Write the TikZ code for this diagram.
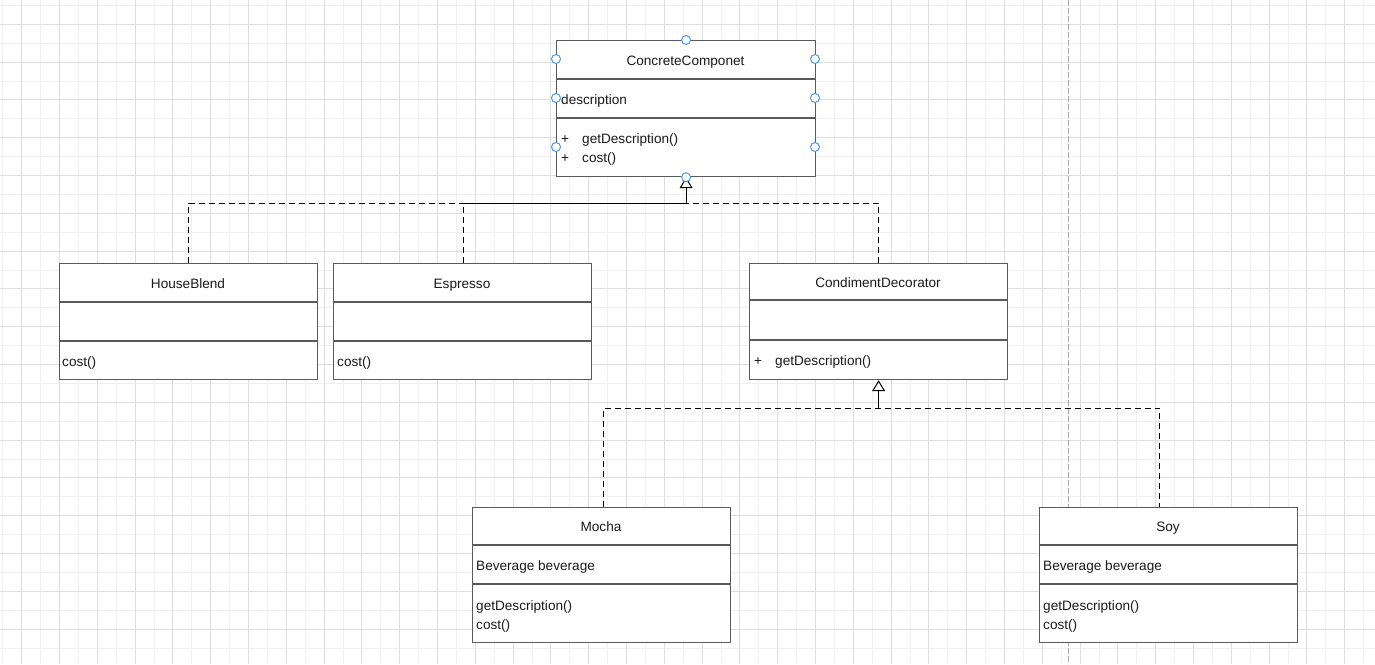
\documentclass[tikz,border=0pt]{standalone}
\usepackage{fontspec}
\setmainfont{Liberation Sans}
\usetikzlibrary{arrows.meta,calc}
\definecolor{gridlight}{HTML}{F0F0F0}
\definecolor{griddark}{HTML}{DEDEDE}
\definecolor{boxline}{HTML}{5A5A5A}
\definecolor{handle}{HTML}{4A98EC}
\definecolor{pagebreak}{HTML}{AAAAAA}
\definecolor{txt}{HTML}{1A1A1A}
\begin{document}
\begin{tikzpicture}[x=1pt,y=-1pt,
  umlbox/.style={draw=boxline, line width=1.2pt, fill=white, inner sep=0pt, anchor=north west, minimum width=258pt, minimum height=116pt},
  divider/.style={draw=boxline, line width=1.2pt},
  lbl/.style={text=txt, font=\fontsize{13.6}{15}\selectfont, inner sep=0pt},
  ttl/.style={lbl, anchor=base},
  itm/.style={lbl, anchor=base west},
  dep/.style={draw=black, line width=1pt, dash pattern=on 6pt off 4pt},
  gen/.style={draw=black, line width=1pt, -{Triangle[open,length=11pt,width=13pt]}},
  hnd/.style={circle, draw=handle, fill=white, line width=1pt, minimum size=9pt, inner sep=0pt}
]
% background and grid
\fill[white] (0,0) rectangle (1375,664);
\useasboundingbox (0,0) rectangle (1375,664);
\foreach \i in {0,...,36} {
  \draw[gridlight, line width=1pt] ({2.8+37.8*\i},0) -- ({2.8+37.8*\i},664);
}
\foreach \i in {0,...,17} {
  \draw[gridlight, line width=1pt] (0,{5.4+37.8*\i}) -- (1375,{5.4+37.8*\i});
}
\foreach \i in {0,...,35} {
  \draw[griddark, line width=1pt] ({21.7+37.8*\i},0) -- ({21.7+37.8*\i},664);
}
\foreach \i in {0,...,16} {
  \draw[griddark, line width=1pt] (0,{24.3+37.8*\i}) -- (1375,{24.3+37.8*\i});
}
% page break line
\draw[pagebreak, line width=1pt, dash pattern=on 6pt off 2pt] (1068.3,0) -- (1068.3,664);

% classes
\node[umlbox, minimum width=259pt, minimum height=136pt] (cc) at (556,40) {};
\node[umlbox] (hb) at (59,263) {};
\node[umlbox] (es) at (333,263) {};
\node[umlbox] (cd) at (749,263) {};
\node[umlbox, minimum height=135pt] (mo) at (472,507) {};
\node[umlbox, minimum height=135pt] (so) at (1039,507) {};

% connectors
\coordinate (ya) at (0,203);
\coordinate (yb) at (0,408);
\coordinate (ja) at (cc.south |- ya);
\coordinate (jb) at (cd.south |- yb);
\coordinate (estop) at ([xshift=1pt]es.north);
\coordinate (sotop) at ([xshift=-9pt]so.north);
\coordinate (motop) at ([xshift=2pt]mo.north);
\draw[dep] (hb.north) -- (hb.north |- ya) -- (estop |- ya);
\draw[dep] (estop) -- (estop |- ya);
\draw[dep] (cd.north) -- (cd.north |- ya) -- (ja);
\draw[gen] (estop |- ya) -- (ja) -- (cc.south);
\draw[dep] (motop) -- (motop |- yb) -- (sotop |- yb) -- (sotop);
\draw[gen] (jb) -- (cd.south);

% redraw boxes on top of connectors
\node[umlbox, minimum width=259pt, minimum height=136pt] at (556,40) {};
\node[umlbox] at (59,263) {};
\node[umlbox] at (333,263) {};
\node[umlbox] at (749,263) {};
\node[umlbox, minimum height=135pt] at (472,507) {};
\node[umlbox, minimum height=135pt] at (1039,507) {};

% dividers
\draw[divider] (556,79) -- (815,79);
\draw[divider] (556,118) -- (815,118);
\draw[divider] (59,302) -- (317,302);
\draw[divider] (59,341) -- (317,341);
\draw[divider] (333,302) -- (591,302);
\draw[divider] (333,341) -- (591,341);
\draw[divider] (749,300) -- (1007,300);
\draw[divider] (749,340) -- (1007,340);
\draw[divider] (472,545) -- (730,545);
\draw[divider] (472,584) -- (730,584);
\draw[divider] (1039,545) -- (1297,545);
\draw[divider] (1039,584) -- (1297,584);

% texts
\node[ttl] (cc-t) at (685.5,65) {ConcreteComponet};
\node[itm] (cc-a) at (561,104) {description};
\node[itm] (cc-p1) at (561,143) {+};
\node[itm] (cc-m1) at (582,143) {getDescription()};
\node[itm] (cc-p2) at (561,162) {+};
\node[itm] (cc-m2) at (582,162) {cost()};

\node[ttl] (hb-t) at (188,288) {HouseBlend};
\node[itm] (hb-m) at (62,366) {cost()};

\node[ttl] (es-t) at (462,288) {Espresso};
\node[itm] (es-m) at (337,366) {cost()};

\node[ttl] (cd-t) at (878,287) {CondimentDecorator};
\node[itm] (cd-p) at (754,365) {+};
\node[itm] (cd-m) at (775,365) {getDescription()};

\node[ttl] (mo-t) at (601,531) {Mocha};
\node[itm] (mo-a) at (476,570) {Beverage beverage};
\node[itm] (mo-m1) at (476,610) {getDescription()};
\node[itm] (mo-m2) at (476,629) {cost()};

\node[ttl] (so-t) at (1168,531) {Soy};
\node[itm] (so-a) at (1043,570) {Beverage beverage};
\node[itm] (so-m1) at (1043,610) {getDescription()};
\node[itm] (so-m2) at (1043,629) {cost()};

% selection handles
\node[hnd] (h1) at (cc.north) {};
\node[hnd] (h2) at (556,59) {};
\node[hnd] (h3) at (815,59) {};
\node[hnd] (h4) at (556,98) {};
\node[hnd] (h5) at (815,98) {};
\node[hnd] (h6) at (556,147) {};
\node[hnd] (h7) at (815,147) {};
\node[hnd] (h8) at (cc.south) {};
\end{tikzpicture}
\end{document}
